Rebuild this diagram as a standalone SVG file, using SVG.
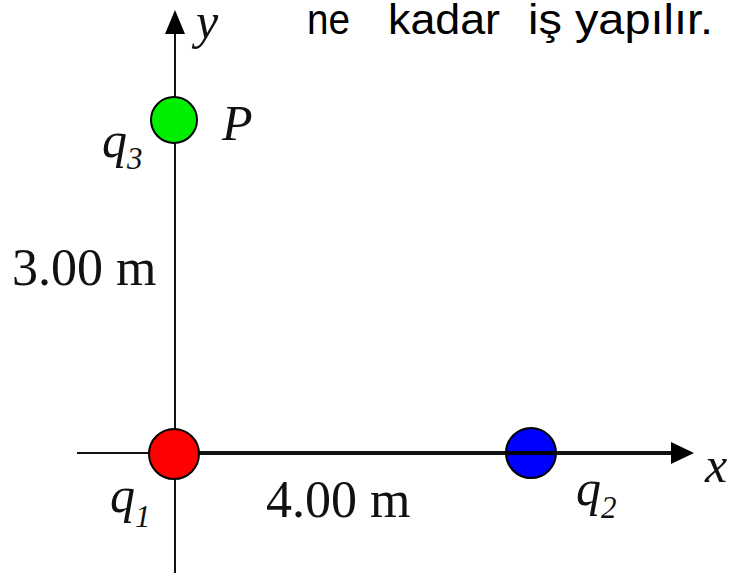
<svg xmlns="http://www.w3.org/2000/svg" width="731" height="573" viewBox="0 0 731 573">
<style>
.ser{font-family:"Liberation Serif","Times New Roman",serif;fill:#111}
.it{font-style:italic}
.big{font-size:50px}
.num{font-size:52px}
.sub{font-size:31px}
.ax{stroke:#111;fill:none}
.ch{stroke:#000;stroke-width:2}
.sans{font-family:"Liberation Sans",Arial,sans-serif;font-size:42px;fill:#000}
</style>
<rect width="731" height="573" fill="#fff"/>
<g id="connectors">
  <line class="ax" x1="175" y1="30" x2="175" y2="573" stroke-width="2"/>
  <polygon points="175,10 165,34 185,34" fill="#000"/>
  <line class="ax" x1="77" y1="453" x2="175" y2="453" stroke-width="2"/>
  <line class="ax" x1="175" y1="453" x2="675" y2="453" stroke-width="4"/>
  <polygon points="694,453 671,442 671,464" fill="#000"/>
</g>
<g id="caption">
  <text class="sans" x="307" y="34" textLength="43" lengthAdjust="spacingAndGlyphs">ne</text>
  <text class="sans" x="388" y="34" textLength="112" lengthAdjust="spacingAndGlyphs">kadar</text>
  <text class="sans" x="528" y="34" textLength="185" lengthAdjust="spacingAndGlyphs">iş yapılır.</text>
</g>
<text class="ser it big" x="196" y="38">y</text>
<text class="ser it big" x="705" y="482">x</text>
<text class="ser num" x="12" y="285">3.00 m</text>
<text class="ser num" x="266" y="517">4.00 m</text>
<g id="q3">
  <circle class="ch" cx="174" cy="120" r="23" fill="#00ee00"/>
  <text class="ser it big" x="222" y="140">P</text>
  <text class="ser it big" x="102" y="157">q<tspan class="sub" dy="12">3</tspan></text>
</g>
<g id="q1">
  <circle class="ch" cx="174" cy="454" r="25" fill="#ff0000"/>
  <text class="ser it big" x="110" y="512">q<tspan class="sub" dy="15">1</tspan></text>
</g>
<g id="q2">
  <circle class="ch" cx="531" cy="453" r="25" fill="#0000ff"/>
  <line x1="506" y1="453" x2="556" y2="453" stroke="#000" stroke-width="4"/>
  <text class="ser it big" x="576" y="505">q<tspan class="sub" dy="13">2</tspan></text>
</g>
</svg>
